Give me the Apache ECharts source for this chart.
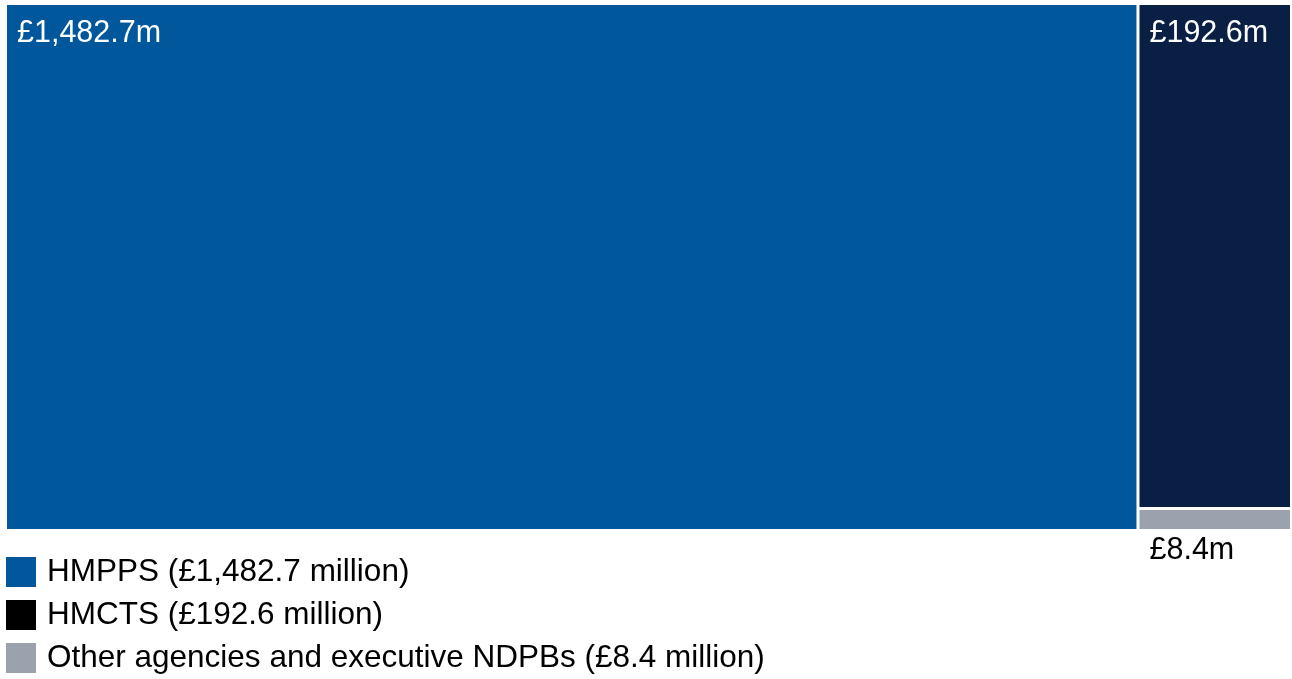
<!DOCTYPE html>
<html>
<head>
<meta charset="utf-8">
<script src="https://cdn.jsdelivr.net/npm/echarts@6/dist/echarts.min.js"></script>
<style>
  html, body { margin: 0; padding: 0; background: #fff; }
  #chart { width: 1292px; height: 679px; }
</style>
</head>
<body>
<div id="chart"></div>
<script>
// spending by body, £ million
const names = ['HMPPS', 'HMCTS', 'Other agencies and executive NDPBs'];
const values = [1482.7, 192.6, 8.4];
const blockColors = ['#00579b', '#0a1f44', '#9ca1ae'];
const legendColors = ['#00579b', '#000000', '#9ca1ae'];

const fontFamily = '"Liberation Sans", Arial, sans-serif';

function money (v) {
  return v.toLocaleString('en-GB', { minimumFractionDigits: 1, maximumFractionDigits: 1 });
}

const legendNames = names.map((n, i) => n + ' (£' + money(values[i]) + ' million)');

const treeData = names.map((n, i) => {
  let item = {
    name: n,
    value: values[i],
    itemStyle: { color: blockColors[i] }
  };
  // the smallest block is too thin, label sits under it
  // (negative bottom padding stops treemap truncating the line)
  if (i === 2) {
    item.label = {
      position: [10, 26],
      verticalAlign: 'top',
      color: '#000',
      lineHeight: 30,
      padding: [0, 0, -60, 0]
    };
  }
  return item;
});

// empty series only to feed the legend
const legendSeries = legendNames.map((n, i) => ({
  type: 'custom',
  name: n,
  coordinateSystem: 'none',
  itemStyle: { color: legendColors[i] },
  renderItem: () => null,
  data: []
}));

const chart = echarts.init(document.getElementById('chart'), null, { renderer: 'canvas' });
chart.setOption({
  animation: false,
  legend: {
    orient: 'vertical',
    left: 6,
    top: 556,
    height: 123,
    padding: 0,
    icon: 'rect',
    itemWidth: 30,
    itemHeight: 30,
    itemGap: 11,
    selectedMode: false,
    data: legendNames,
    textStyle: { fontSize: 31.5, lineHeight: 30, color: '#000', fontFamily: fontFamily, padding: [0, 0, 0, 6] }
  },
  series: [{
    type: 'treemap',
    left: 7,
    top: 5,
    right: 2,
    bottom: 150,
    roam: false,
    nodeClick: false,
    breadcrumb: { show: false },
    itemStyle: { borderWidth: 0, gapWidth: 3 },
    levels: [
      { itemStyle: { borderWidth: 0, gapWidth: 3 } }
    ],
    label: {
      show: true,
      position: 'insideTopLeft',
      distance: 0,
      padding: [13, 0, 0, 10],
      color: '#fff',
      fontSize: 30.5,
      fontFamily: fontFamily,
      formatter: p => '£' + money(p.value) + 'm'
    },
    data: treeData
  }].concat(legendSeries)
});
</script>
</body>
</html>
